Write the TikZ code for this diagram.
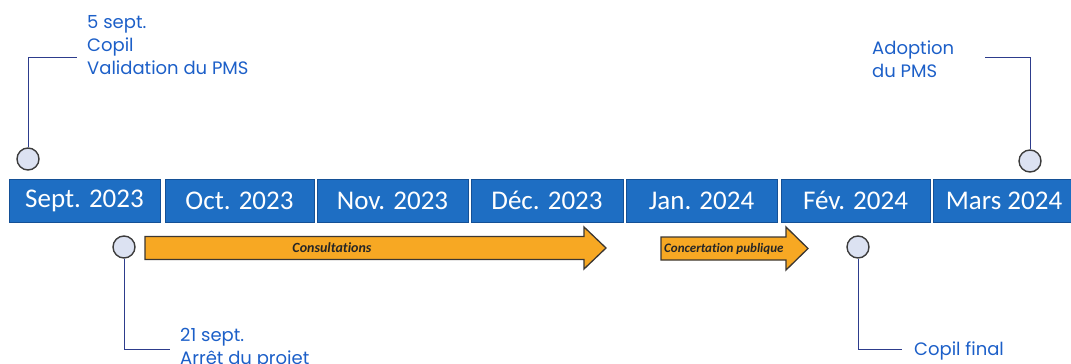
\documentclass[tikz,border=0pt]{standalone}
\usepackage{fontspec}
\setmainfont{Poppins}
\newfontfamily\calib[Ligatures=NoCommon]{Carlito}
\definecolor{monthblue}{RGB}{30,110,195}
\definecolor{monthedge}{RGB}{20,80,150}
\definecolor{calltext}{RGB}{28,95,200}
\definecolor{dotfill}{RGB}{220,226,242}
\definecolor{dotedge}{RGB}{60,60,60}
\definecolor{connc}{RGB}{45,60,140}
\definecolor{arrfill}{RGB}{247,168,35}
\definecolor{arredge}{RGB}{60,55,50}
\begin{document}
\begin{tikzpicture}[x=1pt,y=-1pt,
  month/.style={fill=monthblue,draw=monthedge,line width=0.6pt,minimum height=43pt,inner sep=0pt,
    text=white,font=\calib\fontsize{27}{30}\selectfont},
  dot/.style={circle,fill=dotfill,draw=dotedge,line width=1.4pt,minimum size=22pt,inner sep=0pt},
  conn/.style={draw=connc,line width=1pt},
  callout/.style={text=calltext,align=left,inner sep=0pt,font=\fontsize{18}{23}\selectfont},
  arrowbody/.style={fill=arrfill,draw=arredge,line width=1.3pt,line join=miter},
  arrlabel/.style={inner sep=0pt,text=black!85,font=\calib\bfseries\itshape\fontsize{13}{15}\selectfont}
]
\useasboundingbox (0,0) rectangle (1071,364);

% month boxes
\node[month,minimum width=151pt] (m1) at (84.5,200.5) {Sept. 2023};
\node[month,minimum width=149pt] (m2) at (239.5,200.5) {Oct. 2023};
\node[month,minimum width=151pt] (m3) at (392.5,200.5) {Nov. 2023};
\node[month,minimum width=152pt] (m4) at (547,200.5) {Déc. 2023};
\node[month,minimum width=151pt] (m5) at (701.5,200.5) {Jan. 2024};
\node[month,minimum width=149pt] (m6) at (855.5,200.5) {Fév. 2024};
\node[month,minimum width=142pt] (m7) at (1004,200.5) {Mars 2024};

% arrows
\draw[arrowbody] (145,236.5) -- (584,236.5) -- (584,227) -- (606,248) -- (584,269) -- (584,259.5) -- (145,259.5) -- cycle;
\node[arrlabel,font=\calib\bfseries\itshape\fontsize{14}{16}\selectfont] (a1) at (332,248) {Consultations};
\draw[arrowbody] (661,237) -- (786,237) -- (786,227) -- (808,248.5) -- (786,270) -- (786,260) -- (661,260) -- cycle;
\node[arrlabel,anchor=west] (a2) at (664,249) {Concertation publique};

% milestone dots
\node[dot] (c1) at (28,159) {};
\node[dot] (c2) at (124,247) {};
\node[dot] (c3) at (858,247) {};
\node[dot] (c4) at (1030,161) {};

% callout texts (base = last line's baseline)
\node[callout,anchor=base west] (t1) at (87,74) {5 sept.\\Copil\\Validation du PMS};
\node[callout,anchor=base west] (t4) at (872,77) {Adoption\\du PMS};
\node[callout,anchor=base west] (t2) at (180,364) {21 sept.\\Arrêt du projet};
\node[callout,anchor=base west] (t3) at (914,355) {Copil final};

% connectors
\coordinate (e1) at (77,57);
\coordinate (e4) at (985,57);
\coordinate (e2) at (170,349);
\coordinate (e3) at (902,349);
\draw[conn] (c1.north) |- (e1);
\draw[conn] (c4.north) |- (e4);
\draw[conn] (c2.south) |- (e2);
\draw[conn] (c3.south) |- (e3);
\end{tikzpicture}
\end{document}
